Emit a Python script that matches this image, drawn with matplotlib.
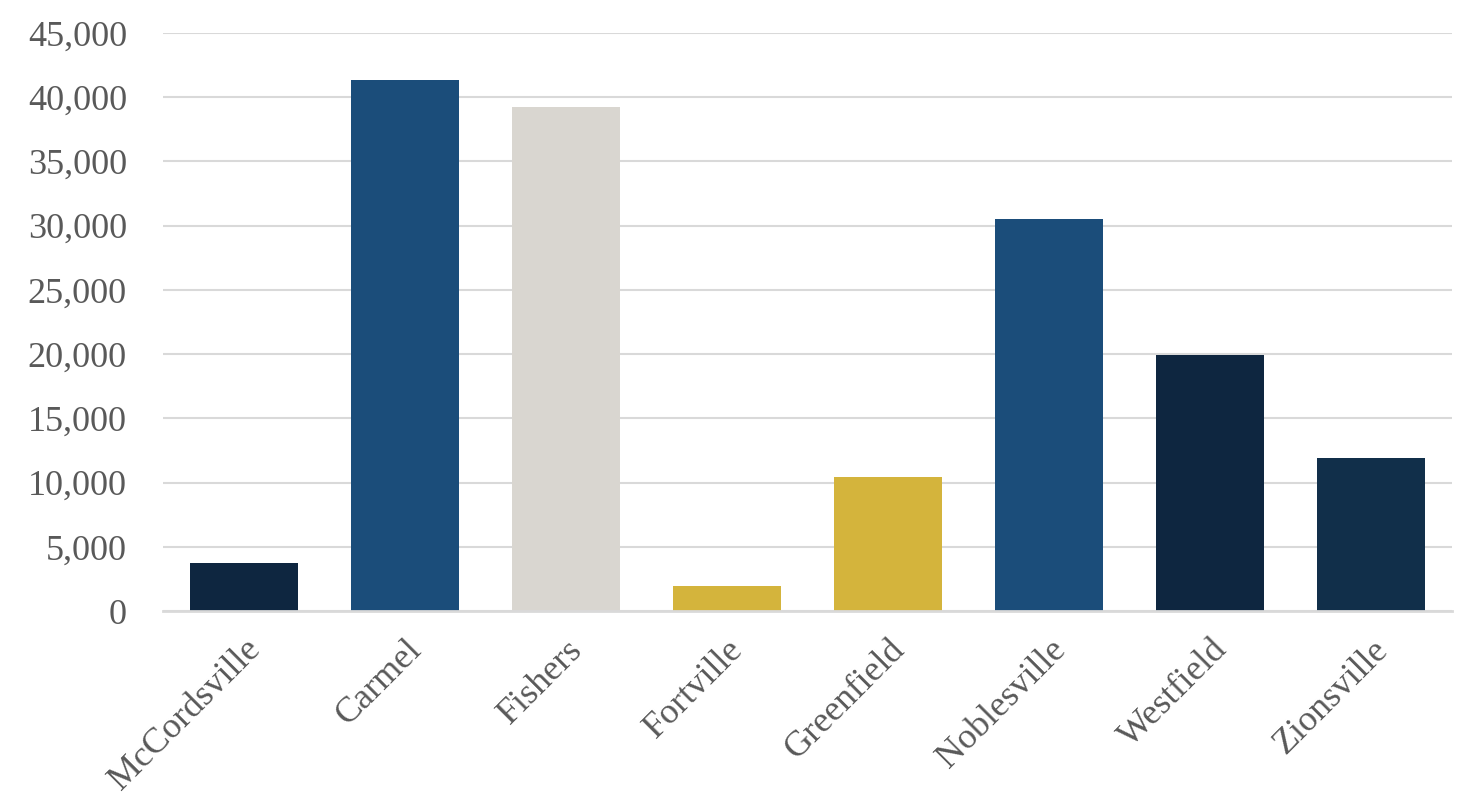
import matplotlib.pyplot as plt
from matplotlib.ticker import FuncFormatter

towns = ["McCordsville", "Carmel", "Fishers", "Fortville",
         "Greenfield", "Noblesville", "Westfield", "Zionsville"]
values = [3750, 41350, 39250, 1950, 10400, 30500, 19950, 11900]
colors = ["#0e2640", "#1b4d7a", "#d9d6d0", "#d4b43c",
          "#d4b43c", "#1b4d7a", "#0e2640", "#112f4a"]

plt.rcParams['font.family'] = ['Liberation Serif', 'DejaVu Serif']

fig = plt.figure(figsize=(14.73, 8.11), dpi=100)
ax = fig.add_axes([0.1107, 0.2466, 0.875, 0.7127])

ax.bar(range(len(towns)), values, width=0.67, color=colors, zorder=3)

ax.set_xlim(-0.5, len(towns) - 0.5)
ax.set_ylim(0, 45000)
ax.set_yticks(range(0, 45001, 5000))
ax.yaxis.set_major_formatter(FuncFormatter(lambda v, p: f"{int(v):,}"))
ax.grid(axis='y', color='#d9d9d9', linewidth=1.5, zorder=0)

for side in ['top', 'right', 'left']:
    ax.spines[side].set_visible(False)
ax.spines['bottom'].set_color('#d9d9d9')
ax.spines['bottom'].set_linewidth(2)
ax.spines['bottom'].set_zorder(4)

ax.tick_params(axis='both', length=0, labelcolor='#595959')
ax.tick_params(axis='y', pad=26, labelsize=26)
ax.tick_params(axis='x', pad=16, labelsize=26)
ax.set_xticks(range(len(towns)))
ax.set_xticklabels(towns, rotation=45, ha='right', rotation_mode='anchor')

fig.savefig("out.png", dpi=100)
